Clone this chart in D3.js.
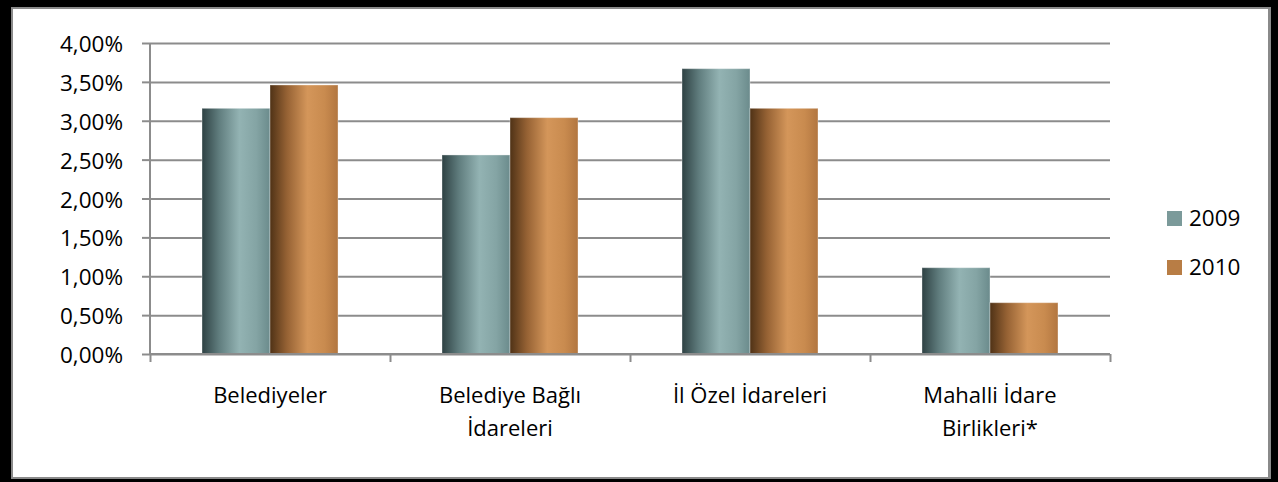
<!DOCTYPE html>
<html>
<head>
<meta charset="utf-8">
<script src="https://cdn.jsdelivr.net/npm/d3@7"></script>
<style>
  html, body { margin: 0; padding: 0; background: #000; }
  svg { display: block; }
  text { font-family: "Open Sans", sans-serif; fill: #000; }
</style>
</head>
<body>
<svg id="chart" width="1278" height="482"></svg>
<script>
const categories = [["Belediyeler"], ["Belediye Bağlı", "İdareleri"], ["İl Özel İdareleri"], ["Mahalli İdare", "Birlikleri*"]];
const seriesNames = ["2009", "2010"];
const values2009 = [3.16, 2.56, 3.67, 1.11];
const values2010 = [3.46, 3.04, 3.16, 0.66];
const yTicks = [0, 0.5, 1, 1.5, 2, 2.5, 3, 3.5, 4];
const yTickLabels = ["0,00%", "0,50%", "1,00%", "1,50%", "2,00%", "2,50%", "3,00%", "3,50%", "4,00%"];

const svg = d3.select("#chart");
const W = 1278, H = 482;

// frame
svg.append("rect").attr("x", 0).attr("y", 0).attr("width", W).attr("height", H).attr("fill", "#000");
svg.append("rect").attr("x", 11).attr("y", 7).attr("width", 1260).attr("height", 472).attr("fill", "#8a8a8a");
svg.append("rect").attr("x", 13).attr("y", 9).attr("width", 1255).attr("height", 468).attr("fill", "#fff");

const plot = { left: 150, right: 1110, top: 43, bottom: 354 };

const x0 = d3.scaleBand().domain(d3.range(categories.length))
  .range([plot.left, plot.right]).paddingInner(0.4333).paddingOuter(0.2167);
const x1 = d3.scaleBand().domain(seriesNames).range([0, x0.bandwidth()]);
const y = d3.scaleLinear().domain([0, 4]).range([plot.bottom, plot.top]);

// gradients
const defs = svg.append("defs");
function grad(id, stops) {
  const g = defs.append("linearGradient").attr("id", id).attr("x1", "0").attr("x2", "1").attr("y1", "0").attr("y2", "0");
  stops.forEach(([o, c]) => g.append("stop").attr("offset", o).attr("stop-color", c));
}
grad("g2009", [[0, "#2e4143"], [0.25, "#607d7e"], [0.55, "#93b3b3"], [0.8, "#84a4a4"], [1, "#6b8b8c"]]);
grad("g2010", [[0, "#4f3216"], [0.25, "#966234"], [0.55, "#d4965a"], [0.8, "#c98b4f"], [1, "#b27640"]]);
const fills = { "2009": "url(#g2009)", "2010": "url(#g2010)" };
const legendColors = { "2009": "#7b9a9a", "2010": "#b87d45" };

// gridlines
const yAxis = d3.axisLeft(y).tickValues(yTicks).tickFormat((d, i) => yTickLabels[i])
  .tickSize(-(plot.right - plot.left)).tickPadding(27);
const gy = svg.append("g").attr("transform", `translate(${plot.left},0)`).call(yAxis);
gy.select(".domain").remove();
gy.selectAll(".tick line").attr("stroke", "#8c8c8c").attr("stroke-width", 2);
gy.selectAll(".tick text").attr("font-size", "22.5px").attr("dy", "0.38em");
// small left tick marks
gy.selectAll(".tick").append("line").attr("x1", -8).attr("x2", 0).attr("stroke", "#8c8c8c").attr("stroke-width", 2);

// bars
const data2 = [values2009, values2010];
const groups = svg.append("g").selectAll("g").data(categories).join("g")
  .attr("transform", (d, i) => `translate(${x0(i)},0)`);
groups.selectAll("rect").data((d, i) => seriesNames.map((s, k) => ({ s, v: data2[k][i] })))
  .join("rect")
  .attr("x", d => x1(d.s))
  .attr("y", d => y(d.v))
  .attr("width", x1.bandwidth())
  .attr("height", d => y(0) - y(d.v))
  .attr("fill", d => fills[d.s])
  .attr("stroke", "rgba(255,255,255,0.35)")
  .attr("stroke-width", 1);

// axes lines
svg.append("line").attr("x1", plot.left).attr("x2", plot.left).attr("y1", plot.top).attr("y2", plot.bottom)
  .attr("stroke", "#8c8c8c").attr("stroke-width", 2);
const xAxis = d3.axisBottom(d3.scaleLinear().domain([0, categories.length]).range([plot.left, plot.right]))
  .tickValues(d3.range(categories.length + 1)).tickSize(8).tickFormat("");
const gx = svg.append("g").attr("transform", `translate(0,${plot.bottom})`).call(xAxis);
gx.select(".domain").attr("stroke", "#8c8c8c").attr("stroke-width", 2).attr("d", `M${plot.left},0H${plot.right}`);
gx.selectAll(".tick line").attr("stroke", "#8c8c8c").attr("stroke-width", 2);

// category labels
const labels = svg.append("g").selectAll("text").data(categories).join("text")
  .attr("x", (d, i) => x0(i) + x0.bandwidth() / 2)
  .attr("y", 403)
  .attr("text-anchor", "middle")
  .attr("font-size", "22px");
labels.selectAll("tspan").data(d => d).join("tspan")
  .attr("x", function () { return this.parentNode.getAttribute("x"); })
  .attr("dy", (d, i) => i === 0 ? 0 : 33)
  .text(d => d);

// legend
const leg = svg.append("g").selectAll("g").data(seriesNames).join("g")
  .attr("transform", (d, i) => `translate(1167,${211 + i * 49})`);
leg.append("rect").attr("width", 15).attr("height", 15).attr("fill", d => legendColors[d]);
leg.append("text").attr("x", 22).attr("y", 15).attr("font-size", "22.5px").text(d => d);
</script>
</body>
</html>
